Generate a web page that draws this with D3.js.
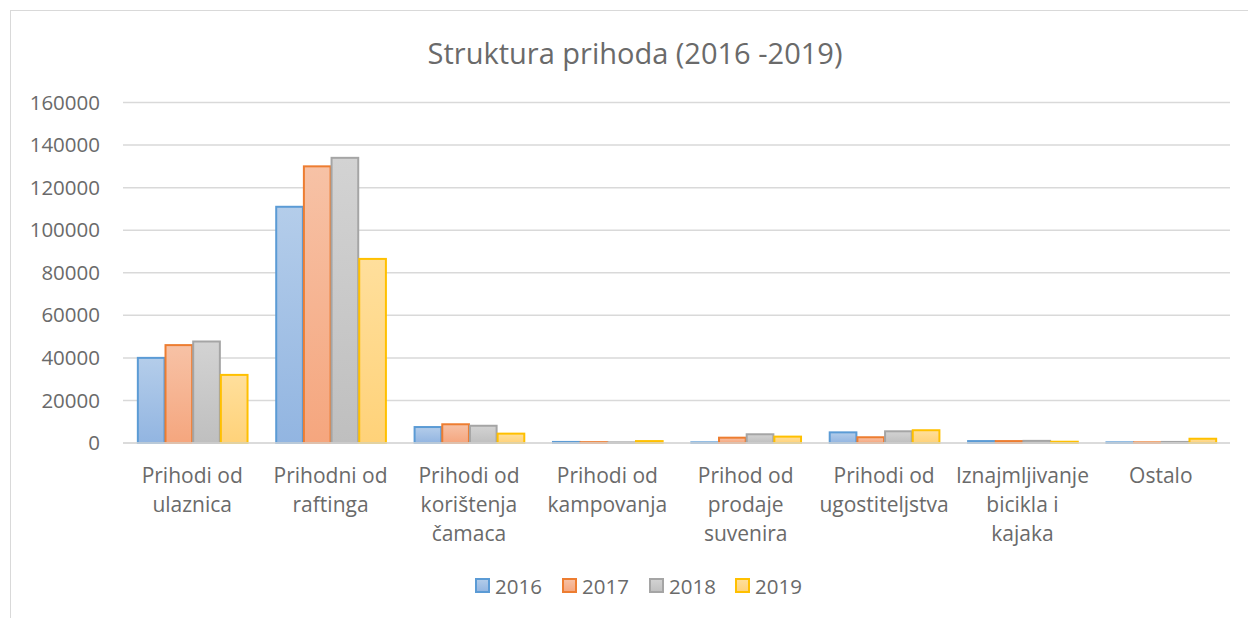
<!DOCTYPE html>
<html>
<head>
<meta charset="utf-8">
<script src="https://cdn.jsdelivr.net/npm/d3@7"></script>
<style>
  body { margin: 0; background: #fff; }
  text { font-family: "Open Sans", "Noto Sans", sans-serif; fill: #6a6a6a; }
</style>
</head>
<body>
<svg id="chart" width="1248" height="618"></svg>
<script>
// ---- DATA ----
const categories = [
  "Prihodi od ulaznica",
  "Prihodni od raftinga",
  "Prihodi od korištenja čamaca",
  "Prihodi od kampovanja",
  "Prihod od prodaje suvenira",
  "Prihodi od ugostiteljstva",
  "Iznajmljivanje bicikla i kajaka",
  "Ostalo"
];
// wrapped lines as shown under the axis
const categoryLines = [
  ["Prihodi od", "ulaznica"],
  ["Prihodni od", "raftinga"],
  ["Prihodi od", "korištenja", "čamaca"],
  ["Prihodi od", "kampovanja"],
  ["Prihod od", "prodaje", "suvenira"],
  ["Prihodi od", "ugostiteljstva"],
  ["Iznajmljivanje", "bicikla i", "kajaka"],
  ["Ostalo"]
];
const years = ["2016", "2017", "2018", "2019"];
const values2016 = [40000, 111000, 7500, 500, 300, 5000, 900, 300];
const values2017 = [46000, 130000, 8800, 400, 2500, 2700, 900, 300];
const values2018 = [47700, 134000, 8100, 300, 4100, 5500, 1000, 500];
const values2019 = [32000, 86500, 4400, 900, 3000, 6000, 600, 2000];
const yTicks = [0, 20000, 40000, 60000, 80000, 100000, 120000, 140000, 160000];

const seriesValues = [values2016, values2017, values2018, values2019];

// stroke, gradient top, gradient bottom
const colors = {
  "2016": { stroke: "#5b9bd5", top: "#b4cdea", bottom: "#92b5e1" },
  "2017": { stroke: "#ed7d31", top: "#f7c2a6", bottom: "#f5a67e" },
  "2018": { stroke: "#a5a5a5", top: "#d3d3d3", bottom: "#bfbfbf" },
  "2019": { stroke: "#ffc000", top: "#ffdf9c", bottom: "#ffd279" }
};

const svg = d3.select("#chart");

// chart frame
svg.append("rect")
  .attr("x", 10.5).attr("y", 10.5)
  .attr("width", 1260).attr("height", 640)
  .attr("fill", "#fff")
  .attr("stroke", "#d9d9d9")
  .attr("stroke-width", 1);

// gradients
const defs = svg.append("defs");
years.forEach(y => {
  const g = defs.append("linearGradient")
    .attr("id", "grad" + y)
    .attr("x1", 0).attr("y1", 0).attr("x2", 0).attr("y2", 1);
  g.append("stop").attr("offset", "0%").attr("stop-color", colors[y].top);
  g.append("stop").attr("offset", "100%").attr("stop-color", colors[y].bottom);
});

// ---- SCALES ----
const x0 = d3.scaleBand()
  .domain(categories)
  .range([123, 1230])
  .paddingInner(0)
  .paddingOuter(0);

const x1 = d3.scaleBand()
  .domain(years)
  .range([0, x0.bandwidth()])
  .paddingInner(0)
  .paddingOuter(0.5);

const y = d3.scaleLinear()
  .domain([0, 160000])
  .range([443, 102.5]);

// title
svg.append("text")
  .attr("x", 635)
  .attr("y", 64)
  .attr("text-anchor", "middle")
  .attr("font-size", 29)
  .text("Struktura prihoda (2016 -2019)");

// gridlines
svg.append("g")
  .selectAll("line")
  .data(yTicks)
  .join("line")
  .attr("x1", 123).attr("x2", 1230)
  .attr("y1", d => y(d)).attr("y2", d => y(d))
  .attr("stroke", "#d9d9d9")
  .attr("stroke-width", 1.5);

// y axis labels
const yAxis = d3.axisLeft(y).tickValues(yTicks).tickSize(0).tickPadding(0).tickFormat(d3.format("d"));
const yAxisG = svg.append("g")
  .attr("transform", "translate(100,0)")
  .call(yAxis);
yAxisG.select(".domain").remove();
yAxisG.selectAll("text")
  .attr("font-size", 20.5)
  .attr("fill", "#6a6a6a")
  .attr("font-family", "'Open Sans', 'Noto Sans', sans-serif");

// bars
const groups = svg.append("g")
  .selectAll("g")
  .data(categories)
  .join("g")
  .attr("transform", d => `translate(${x0(d)},0)`);

groups.selectAll("rect")
  .data((d, i) => years.map((yr, k) => ({ year: yr, value: seriesValues[k][i] })))
  .join("rect")
  .attr("x", d => x1(d.year) + 1)
  .attr("width", x1.bandwidth() - 1)
  .attr("y", d => y(d.value))
  .attr("height", d => y(0) - y(d.value))
  .attr("fill", d => `url(#grad${d.year})`)
  .attr("stroke", d => colors[d.year].stroke)
  .attr("stroke-width", 2);

// baseline
svg.append("line")
  .attr("x1", 123).attr("x2", 1230)
  .attr("y1", y(0)).attr("y2", y(0))
  .attr("stroke", "#d9d9d9")
  .attr("stroke-width", 1.5);

// category labels
const xLabels = svg.append("g");
categories.forEach((c, i) => {
  const t = xLabels.append("text")
    .attr("x", x0(c) + x0.bandwidth() / 2)
    .attr("y", 483)
    .attr("text-anchor", "middle")
    .attr("font-size", 21);
  categoryLines[i].forEach((line, j) => {
    t.append("tspan")
      .attr("x", x0(c) + x0.bandwidth() / 2)
      .attr("y", 483 + j * 29)
      .text(line);
  });
});

// legend
const legendX = [475, 562, 649, 735];
const legend = svg.append("g")
  .selectAll("g")
  .data(years)
  .join("g")
  .attr("transform", (d, i) => `translate(${legendX[i]},579)`);

legend.append("rect")
  .attr("x", 1).attr("y", 0)
  .attr("width", 13).attr("height", 13)
  .attr("fill", d => `url(#grad${d})`)
  .attr("stroke", d => colors[d].stroke)
  .attr("stroke-width", 2);

legend.append("text")
  .attr("x", 20)
  .attr("y", 14.5)
  .attr("font-size", 20.5)
  .text(d => d);
</script>
</body>
</html>
